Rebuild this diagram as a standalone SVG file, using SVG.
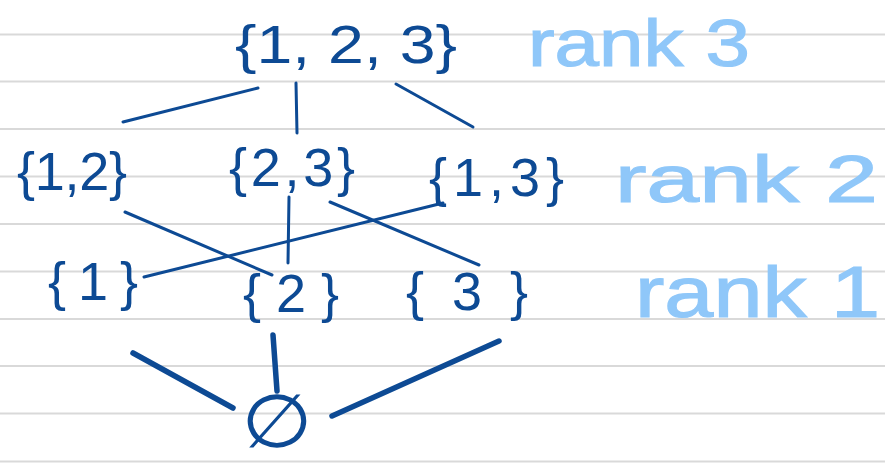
<svg xmlns="http://www.w3.org/2000/svg" width="885" height="465" viewBox="0 0 885 465">
<style>
.rule{stroke:#d9d9d9;stroke-width:2}
.set{font-family:"Liberation Sans","DejaVu Sans",sans-serif;font-size:54px;fill:#0d4a94}
.rank{font-family:"Liberation Sans","DejaVu Sans",sans-serif;fill:#8fc7f9;stroke:#8fc7f9;stroke-width:1.2}
.edge{stroke:#0d4a94;stroke-width:3;stroke-linecap:round;fill:none}
.bold{stroke-width:5.5}
</style>
<rect width="885" height="465" fill="#ffffff"/>
<g id="paper">
<line class="rule" x1="0" y1="34.5" x2="885" y2="34.5"/>
<line class="rule" x1="0" y1="81.5" x2="885" y2="81.5"/>
<line class="rule" x1="0" y1="129" x2="885" y2="129"/>
<line class="rule" x1="0" y1="176.5" x2="885" y2="176.5"/>
<line class="rule" x1="0" y1="224" x2="885" y2="224"/>
<line class="rule" x1="0" y1="271.5" x2="885" y2="271.5"/>
<line class="rule" x1="0" y1="319" x2="885" y2="319"/>
<line class="rule" x1="0" y1="366" x2="885" y2="366"/>
<line class="rule" x1="0" y1="413.5" x2="885" y2="413.5"/>
<line class="rule" x1="0" y1="461.5" x2="885" y2="461.5"/>
</g>
<g id="connectors">
<line class="edge" x1="123" y1="122" x2="258" y2="88"/>
<line class="edge" x1="296" y1="83" x2="297" y2="133"/>
<line class="edge" x1="396" y1="84" x2="473" y2="127"/>
<line class="edge" x1="125" y1="212" x2="272" y2="275"/>
<line class="edge" x1="289" y1="197" x2="288" y2="263"/>
<line class="edge" x1="330" y1="202" x2="479" y2="265"/>
<line class="edge" x1="443" y1="203" x2="144" y2="277"/>
<line class="edge bold" x1="133" y1="353" x2="233" y2="408"/>
<line class="edge bold" x1="273" y1="335" x2="277" y2="391"/>
<line class="edge bold" x1="499" y1="341" x2="332" y2="416"/>
</g>
<g id="n123"><text class="set" x="235" y="63" textLength="222" lengthAdjust="spacingAndGlyphs">{1, 2, 3}</text></g>
<g id="n12"><text class="set" x="17" y="190" textLength="110" lengthAdjust="spacing">{1,2}</text></g>
<g id="n23"><text class="set" x="229" y="186" textLength="126" lengthAdjust="spacing">{2,3}</text></g>
<g id="n13"><text class="set" x="429" y="196" textLength="135" lengthAdjust="spacing">{1,3}</text></g>
<g id="n1"><text class="set" x="48" y="300" font-size="56" textLength="90" lengthAdjust="spacing">{1}</text></g>
<g id="n2"><text class="set" x="243" y="312" font-size="56" textLength="96" lengthAdjust="spacing">{2}</text></g>
<g id="n3"><text class="set" x="406" y="310" font-size="56" textLength="122" lengthAdjust="spacing">{3}</text></g>
<g id="nempty"><text x="0" y="0" transform="translate(277 447) scale(1.1 1)" text-anchor="middle" font-family="DejaVu Sans, sans-serif" font-size="74" fill="#0d4a94">∅</text></g>
<g id="labels">
<text class="rank" x="528" y="66" font-size="66" textLength="222" lengthAdjust="spacingAndGlyphs">rank 3</text>
<text class="rank" x="615" y="202" font-size="66" textLength="263" lengthAdjust="spacingAndGlyphs">rank 2</text>
<text class="rank" x="635" y="317" font-size="72" textLength="245" lengthAdjust="spacingAndGlyphs">rank 1</text>
</g>
</svg>
